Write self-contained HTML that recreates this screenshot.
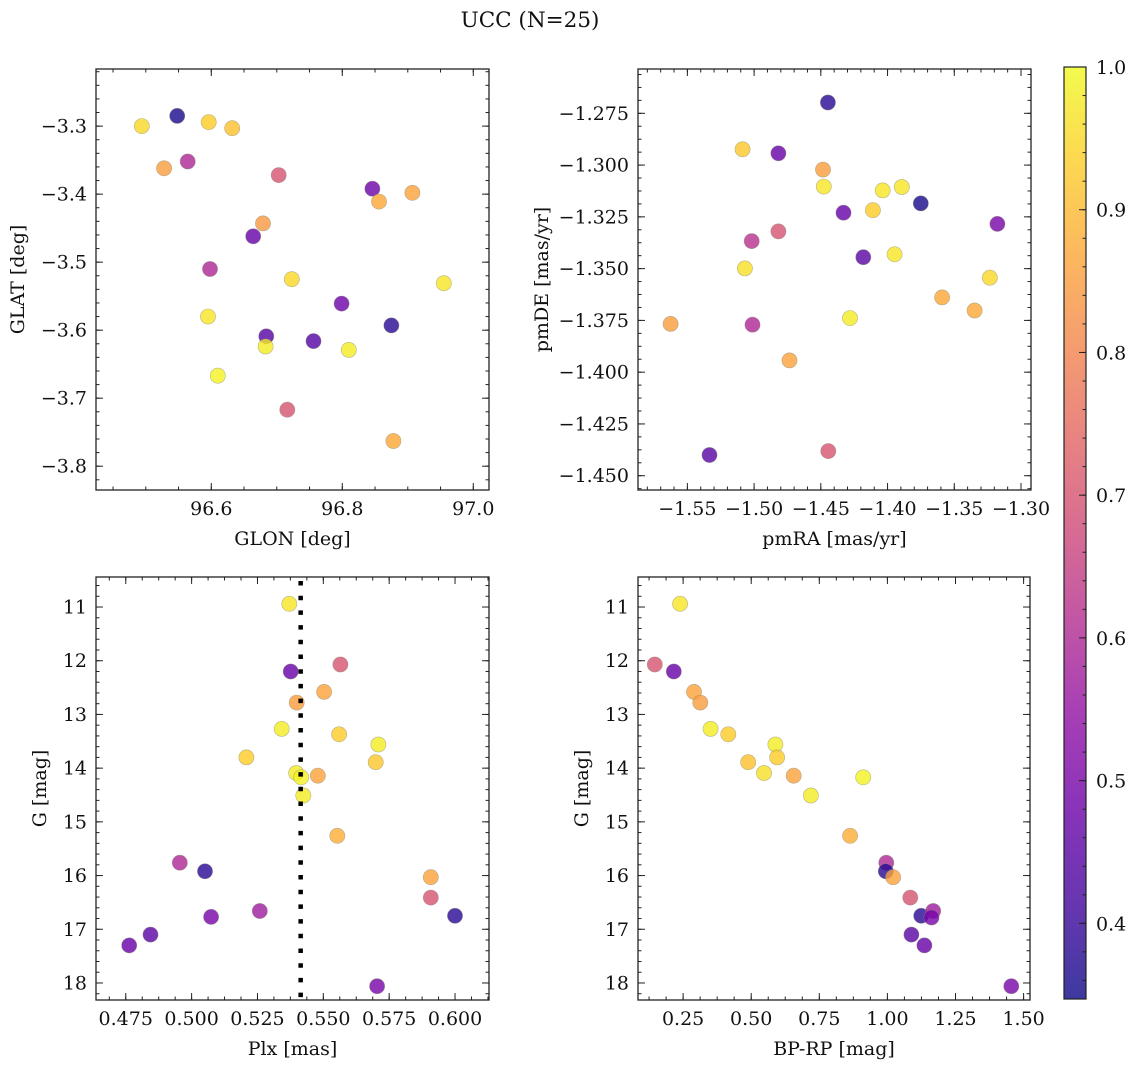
<!DOCTYPE html>
<html><head><meta charset="utf-8"><style>
html,body{margin:0;padding:0;background:#fff;}
svg{display:block;font-family:"DejaVu Serif","Liberation Serif",serif;}
</style></head><body>
<svg id="fig" width="1136" height="1067" viewBox="0 0 1136 1067" xmlns="http://www.w3.org/2000/svg">
<defs>
<linearGradient id="plasmaGrad" x1="0" y1="1" x2="0" y2="0"></linearGradient>
</defs>
<text x="530" y="27" font-size="21.5" text-anchor="middle" fill="#111">UCC (N=25)</text>
<g id="panels"></g>
</svg>
<script>
// ---- Data: membership probability (color), per panel ----
const tlGlon = [96.494,96.548,96.596,96.632,96.528,96.564,96.703,96.846,96.856,96.907,96.679,96.664,96.598,96.723,96.955,96.799,96.595,96.875,96.684,96.756,96.683,96.810,96.610,96.716,96.878];
const tlGlat = [-3.300,-3.285,-3.294,-3.303,-3.362,-3.352,-3.372,-3.392,-3.411,-3.398,-3.443,-3.462,-3.510,-3.525,-3.531,-3.561,-3.580,-3.593,-3.609,-3.616,-3.624,-3.629,-3.667,-3.717,-3.763];
const tlProb = [0.95,0.36,0.93,0.91,0.85,0.60,0.70,0.48,0.87,0.86,0.84,0.47,0.60,0.95,0.97,0.48,0.97,0.38,0.44,0.44,0.98,0.98,0.99,0.70,0.87];

const trPmra = [-1.4447,-1.5086,-1.4818,-1.4484,-1.4478,-1.4036,-1.3893,-1.3751,-1.4110,-1.4330,-1.3177,-1.4818,-1.5018,-1.4182,-1.3947,-1.5069,-1.3234,-1.3591,-1.3348,-1.4281,-1.5626,-1.5012,-1.4735,-1.5334,-1.4444];
const trPmde = [-1.2698,-1.2924,-1.2943,-1.3022,-1.3104,-1.3122,-1.3106,-1.3185,-1.3218,-1.3230,-1.3284,-1.3320,-1.3367,-1.3445,-1.3431,-1.3499,-1.3544,-1.3639,-1.3702,-1.3739,-1.3767,-1.3771,-1.3943,-1.4400,-1.4381];
const trProb = [0.38,0.92,0.47,0.85,0.97,0.97,0.97,0.36,0.93,0.47,0.50,0.70,0.62,0.45,0.97,0.96,0.95,0.87,0.87,0.98,0.85,0.60,0.86,0.45,0.70];

const blPlx = [0.5371,0.5376,0.5565,0.5503,0.5399,0.5342,0.5560,0.5709,0.5208,0.5699,0.5397,0.5416,0.5479,0.5424,0.5553,0.4955,0.5051,0.5908,0.5908,0.6000,0.5259,0.5074,0.4844,0.4763,0.5704];
const blG = [10.94,12.20,12.07,12.58,12.78,13.27,13.37,13.56,13.80,13.89,14.09,14.17,14.14,14.51,15.26,15.76,15.92,16.03,16.41,16.75,16.66,16.77,17.10,17.30,18.06];
const blProb = [0.97,0.47,0.70,0.86,0.85,0.98,0.93,0.98,0.93,0.92,0.98,0.99,0.86,0.98,0.88,0.60,0.38,0.86,0.70,0.38,0.57,0.50,0.45,0.47,0.50];
const plxMedian = [0.5414];

const brBprp = [0.239,0.146,0.216,0.290,0.313,0.351,0.416,0.589,0.595,0.489,0.547,0.656,0.911,0.719,0.863,0.996,0.994,1.021,1.084,1.124,1.168,1.162,1.088,1.136,1.455];
const brG = [10.94,12.07,12.20,12.58,12.78,13.27,13.37,13.56,13.80,13.89,14.09,14.14,14.17,14.51,15.26,15.76,15.92,16.03,16.41,16.75,16.66,16.78,17.10,17.30,18.06];
const brProb = [0.97,0.70,0.47,0.86,0.85,0.98,0.93,0.98,0.93,0.91,0.96,0.86,0.99,0.98,0.88,0.60,0.38,0.86,0.70,0.38,0.57,0.50,0.45,0.47,0.50];

// ---- Tick values / labels ----
const tlXTicks = [96.6,96.8,97.0]; const tlXLabels = ["96.6","96.8","97.0"];
const tlYTicks = [-3.3,-3.4,-3.5,-3.6,-3.7,-3.8]; const tlYLabels = ["\u22123.3","\u22123.4","\u22123.5","\u22123.6","\u22123.7","\u22123.8"];
const trXTicks = [-1.55,-1.50,-1.45,-1.40,-1.35,-1.30]; const trXLabels = ["\u22121.55","\u22121.50","\u22121.45","\u22121.40","\u22121.35","\u22121.30"];
const trYTicks = [-1.275,-1.300,-1.325,-1.350,-1.375,-1.400,-1.425,-1.450]; const trYLabels = ["\u22121.275","\u22121.300","\u22121.325","\u22121.350","\u22121.375","\u22121.400","\u22121.425","\u22121.450"];
const blXTicks = [0.475,0.500,0.525,0.550,0.575,0.600]; const blXLabels = ["0.475","0.500","0.525","0.550","0.575","0.600"];
const gTicks = [11,12,13,14,15,16,17,18]; const gLabels = ["11","12","13","14","15","16","17","18"];
const brXTicks = [0.25,0.50,0.75,1.00,1.25,1.50]; const brXLabels = ["0.25","0.50","0.75","1.00","1.25","1.50"];
const cbTicks = [0.4,0.5,0.6,0.7,0.8,0.9,1.0]; const cbLabels = ["0.4","0.5","0.6","0.7","0.8","0.9","1.0"];
const cbRange = [0.347,1.0];

const FS = 19;
const plasma = ["#0d0887","#41049d","#6a00a8","#8f0da4","#b12a90","#cc4778","#e16462","#f2844b","#fca636","#fcce25","#f0f921"];
function hex(c){return [parseInt(c.slice(1,3),16),parseInt(c.slice(3,5),16),parseInt(c.slice(5,7),16)];}
function cmap(v){
  let t=(v-cbRange[0])/(cbRange[1]-cbRange[0]); t=Math.max(0,Math.min(1,t));
  const p=t*10, i=Math.min(9,Math.floor(p)), f=p-i;
  const a=hex(plasma[i]), b=hex(plasma[i+1]);
  return "rgb("+a.map((x,k)=>Math.round(x+(b[k]-x)*f)).join(",")+")";
}
const NS="http://www.w3.org/2000/svg";
function mk(tag,attrs,parent){const e=document.createElementNS(NS,tag);for(const k in attrs)e.setAttribute(k,attrs[k]);parent.appendChild(e);return e;}
const root=document.getElementById("panels");

function panel(cfg){
  const g=mk("g",{},root);
  
  
  const [L,T,R,B]=cfg.box;
  const sx=v=>L+(v-cfg.xlim[0])/(cfg.xlim[1]-cfg.xlim[0])*(R-L);
  const sy=cfg.invert? v=>T+(v-cfg.ylim[0])/(cfg.ylim[1]-cfg.ylim[0])*(B-T)
                     : v=>B-(v-cfg.ylim[0])/(cfg.ylim[1]-cfg.ylim[0])*(B-T);
  const pts=mk("g",{},g);
  
  
  for(let i=0;i<cfg.x.length;i++){
    const c=mk("circle",{cx:sx(cfg.x[i]).toFixed(1),cy:sy(cfg.y[i]).toFixed(1),r:7.6,fill:cmap(cfg.c[i]),"fill-opacity":0.8,stroke:"#8a8a7a","stroke-opacity":0.6,"stroke-width":0.6},pts);
    
    
  }
  if(cfg.vline){
    const l=mk("line",{x1:sx(cfg.vline[0]),x2:sx(cfg.vline[0]),y1:T+4,y2:B,stroke:"#000","stroke-width":4.5,"stroke-dasharray":"4.5 10.2"},g);
    
    
  }
  const f=mk("rect",{x:L,y:T,width:R-L,height:B-T,fill:"none",stroke:"#222","stroke-width":1.3},g);
  
  
  const tk=mk("g",{stroke:"#222","stroke-width":1},g);
  
  
  function xtick(v,len){const X=sx(v);if(X<L-0.5||X>R+0.5)return;mk("line",{x1:X,x2:X,y1:B,y2:B-len},tk);mk("line",{x1:X,x2:X,y1:T,y2:T+len},tk);}
  function ytick(v,len){const Y=sy(v);if(Y<T-0.5||Y>B+0.5)return;mk("line",{x1:L,x2:L+len,y1:Y,y2:Y},tk);mk("line",{x1:R,x2:R-len,y1:Y,y2:Y},tk);}
  const xs=Math.min(...cfg.xlim),xe=Math.max(...cfg.xlim);
  for(let k=Math.ceil(xs/cfg.xminor);k*cfg.xminor<=xe;k++)xtick(k*cfg.xminor,3.5);
  const ys=Math.min(...cfg.ylim),ye=Math.max(...cfg.ylim);
  for(let k=Math.ceil(ys/cfg.yminor);k*cfg.yminor<=ye;k++)ytick(k*cfg.yminor,3.5);
  const lab=mk("g",{"font-size":FS,fill:"#111"},g);
  cfg.xt.forEach((v,i)=>{xtick(v,7);const t=mk("text",{x:sx(v),y:B+25,"text-anchor":"middle"},lab);t.textContent=cfg.xl[i];
    
    });
  cfg.yt.forEach((v,i)=>{ytick(v,7);const t=mk("text",{x:L-9,y:sy(v)+6.5,"text-anchor":"end"},lab);t.textContent=cfg.yl[i];
    
    });
  const xt=mk("text",{x:(L+R)/2,y:B+55,"text-anchor":"middle","font-size":FS,fill:"#111"},g);xt.textContent=cfg.xtitle;
  
  
  const yx=cfg.ytx, yy=(T+B)/2;
  const yt=mk("text",{x:yx,y:yy,"text-anchor":"middle","font-size":FS,fill:"#111",transform:"rotate(-90 "+yx+" "+yy+")"},g);yt.textContent=cfg.ytitle;
  
  
}

panel({name:"glon-glat-panel",box:[96,69,489,490],xlim:[96.424,97.024],ylim:[-3.835,-3.216],x:tlGlon,y:tlGlat,c:tlProb,
  xt:tlXTicks,xl:tlXLabels,yt:tlYTicks,yl:tlYLabels,xminor:0.05,yminor:0.02,xtitle:"GLON [deg]",ytitle:"GLAT [deg]",ytx:24});
panel({name:"pm-panel",box:[638,69,1031,490],xlim:[-1.587,-1.2925],ylim:[-1.4569,-1.2536],x:trPmra,y:trPmde,c:trProb,
  xt:trXTicks,xl:trXLabels,yt:trYTicks,yl:trYLabels,xminor:0.01,yminor:0.00625,xtitle:"pmRA [mas/yr]",ytitle:"pmDE [mas/yr]",ytx:548});
panel({name:"plx-g-panel",box:[96,577,489,1000],xlim:[0.4637,0.6129],ylim:[10.441,18.317],invert:true,x:blPlx,y:blG,c:blProb,vline:plxMedian,
  xt:blXTicks,xl:blXLabels,yt:gTicks,yl:gLabels,xminor:0.00625,yminor:0.2,xtitle:"Plx [mas]",ytitle:"G [mag]",ytx:46});
panel({name:"cmd-panel",box:[638,577,1030,1000],xlim:[0.0844,1.5235],ylim:[10.441,18.317],invert:true,x:brBprp,y:brG,c:brProb,
  xt:brXTicks,xl:brXLabels,yt:gTicks,yl:gLabels,xminor:0.0625,yminor:0.2,xtitle:"BP-RP [mag]",ytitle:"G [mag]",ytx:588});

(function(){
  const grad=document.getElementById("plasmaGrad");
  for(let i=0;i<=20;i++){const v=cbRange[0]+(cbRange[1]-cbRange[0])*i/20;mk("stop",{offset:(i/20),"stop-color":cmap(v)},grad);}
  const g=mk("g",{},root);
  
  
  const L=1064,R=1086,T=67,B=999;
  const sy=v=>B-(v-cbRange[0])/(cbRange[1]-cbRange[0])*(B-T);
  mk("rect",{x:L,y:T,width:R-L,height:B-T,fill:"url(#plasmaGrad)","fill-opacity":0.8},g);
  mk("rect",{x:L,y:T,width:R-L,height:B-T,fill:"none",stroke:"#222","stroke-width":1.2},g);
  for(let k=Math.ceil(cbRange[0]/0.02);k*0.02<=cbRange[1]+1e-9;k++){const Y=sy(k*0.02);mk("line",{x1:R,x2:R-3.5,y1:Y,y2:Y,stroke:"#222","stroke-width":1},g);}
  cbTicks.forEach((v,i)=>{const Y=sy(v);mk("line",{x1:R,x2:R-7,y1:Y,y2:Y,stroke:"#222","stroke-width":1},g);
    const t=mk("text",{x:R+10,y:Y+7,"font-size":FS,fill:"#111"},g);t.textContent=cbLabels[i];
    
    });
})();
</script>
</body></html>
